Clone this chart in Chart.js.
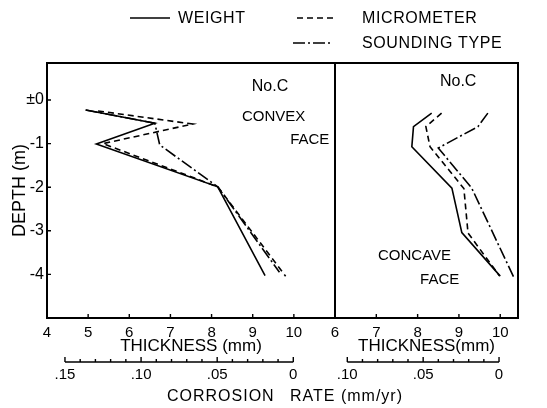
<!DOCTYPE html>
<html>
<head>
<meta charset="utf-8">
<script src="https://cdn.jsdelivr.net/npm/chart.js@4.4.1/dist/chart.umd.min.js"></script>
<style>
  html, body { margin: 0; padding: 0; background: #fff; }
  #wrap { position: relative; width: 547px; height: 408px; background: #fff; }
  #wrap canvas { position: absolute; left: 0; top: 0; }
</style>
</head>
<body>
<div id="wrap">
  <canvas id="convexChart" width="547" height="408"></canvas>
  <canvas id="concaveChart" width="547" height="408"></canvas>
</div>
<script>
// Convex face (left panel): thickness (mm) vs depth (m)
const convexWeightX = [4.94, 6.62, 5.20, 8.15, 9.30];
const convexWeightY = [-0.23, -0.53, -1.01, -1.99, -4.03];
const convexMicroX = [5.24, 7.54, 5.36, 8.15, 9.80];
const convexMicroY = [-0.25, -0.55, -1.00, -1.99, -4.04];
const convexSoundX = [4.94, 6.62, 6.74, 8.15, 9.65];
const convexSoundY = [-0.23, -0.53, -1.03, -1.99, -3.95];

// Concave face (right panel)
const concaveWeightX = [8.34, 7.90, 7.86, 8.83, 9.07, 10.00];
const concaveWeightY = [-0.30, -0.61, -1.07, -2.02, -3.04, -4.04];
const concaveMicroX = [8.58, 8.20, 8.30, 9.12, 9.22, 9.98];
const concaveMicroY = [-0.30, -0.61, -1.07, -2.03, -3.05, -4.03];
const concaveSoundX = [9.70, 9.46, 8.50, 9.31, 10.32];
const concaveSoundY = [-0.30, -0.61, -1.10, -2.02, -4.05];

// tick labels
const depthTicks = [-4, -3, -2, -1, 0];
const depthLabels = ['-4', '-3', '-2', '-1', '±0'];
const convexThicknessTicks = [4, 5, 6, 7, 8, 9, 10];
const concaveThicknessTicks = [6, 7, 8, 9, 10];
const convexRateMajor = [0.15, 0.10, 0.05, 0];
const convexRateLabels = ['.15', '.10', '.05', '0'];
const concaveRateMajor = [0.10, 0.05, 0];
const concaveRateLabels = ['.10', '.05', '0'];
const rateMinorStep = 0.01;

Chart.defaults.font.family = 'Liberation Sans';
Chart.defaults.color = '#000';

function points(xs, ys) {
    return xs.map((x, i) => ({ x: x, y: ys[i] }));
}

function series(label, xs, ys, dash) {
    return {
        label: label,
        data: points(xs, ys),
        showLine: true,
        borderColor: '#000',
        borderWidth: 1.6,
        borderDash: dash,
        pointRadius: 0,
        tension: 0
    };
}

const dashMicro = [6, 4];
const dashSound = [12, 3, 2, 3];

function thicknessScale(min, max, ticks, title) {
    return {
        type: 'linear',
        position: 'bottom',
        min: min,
        max: max,
        weight: 0,
        afterBuildTicks: s => { s.ticks = ticks.map(v => ({ value: v })); },
        afterFit: s => { s.height = 40; },
        grid: { display: false, drawTicks: false },
        border: { display: false },
        ticks: { autoSkip: false, minRotation: 0, maxRotation: 0, padding: 6, font: { size: 15 } },
        title: { display: true, text: title, font: { size: 17 }, padding: { top: 0, bottom: 1 } }
    };
}

function rateScale(min, max, major, labels) {
    const values = [];
    const n = Math.round(major[0] / rateMinorStep);
    for (let i = n; i >= 0; i--) values.push(i * rateMinorStep);
    return {
        type: 'linear',
        axis: 'x',
        position: 'bottom',
        reverse: true,
        min: min,
        max: max,
        weight: 1,
        afterBuildTicks: s => { s.ticks = values.map(v => ({ value: v })); },
        afterFit: s => { s.height = 50; },
        grid: { display: false, drawTicks: false },
        border: { display: false },
        ticks: {
            autoSkip: false, minRotation: 0, maxRotation: 0, padding: 8, font: { size: 15 },
            callback: function(value) {
                const k = major.findIndex(m => Math.abs(m - value) < 1e-6);
                return k < 0 ? '' : labels[k];
            }
        },
        majorValues: major
    };
}

function depthScale(show) {
    return {
        type: 'linear',
        position: 'left',
        display: show,
        min: -5,
        max: 0.85,
        afterBuildTicks: s => { s.ticks = depthTicks.map(v => ({ value: v })); },
        afterFit: s => { if (show) s.width = 47; },
        grid: { display: false, drawTicks: false },
        border: { display: false },
        ticks: {
            autoSkip: false, padding: 3, font: { size: 16 },
            callback: function(value) { return depthLabels[depthTicks.indexOf(value)]; }
        },
        title: { display: true, text: 'DEPTH (m)', font: { size: 18 }, padding: { top: 9, bottom: 0 } }
    };
}

// frame, inward ticks, corrosion-rate axis line and panel notes
const panelFrame = {
    id: 'panelFrame',
    afterDraw(chart, args, opts) {
        const { ctx, chartArea: a, scales } = chart;
        ctx.save();
        ctx.strokeStyle = '#000';
        ctx.lineWidth = 2;
        ctx.strokeRect(a.left, a.top, a.right - a.left, a.bottom - a.top);

        ctx.lineWidth = 1.4;
        ctx.beginPath();
        scales.x.ticks.forEach(t => {
            const px = scales.x.getPixelForValue(t.value);
            ctx.moveTo(px, a.bottom);
            ctx.lineTo(px, a.bottom - 4);
        });
        if (scales.y.options.display) {
            scales.y.ticks.forEach(t => {
                const py = scales.y.getPixelForValue(t.value);
                ctx.moveTo(a.left, py);
                ctx.lineTo(a.left + 4, py);
            });
        }
        const r = scales.rate;
        const ly = r.top + 4;
        const major = r.options.majorValues;
        ctx.moveTo(r.getPixelForValue(major[0]), ly);
        ctx.lineTo(r.getPixelForValue(0), ly);
        r.ticks.forEach(t => {
            const px = r.getPixelForValue(t.value);
            const big = major.some(m => Math.abs(m - t.value) < 1e-6);
            ctx.moveTo(px, ly);
            ctx.lineTo(px, ly - (big ? 5 : 3));
        });
        ctx.stroke();

        ctx.fillStyle = '#000';
        ctx.textBaseline = 'middle';
        (opts.notes || []).forEach(n => {
            ctx.font = n.size + 'px "Liberation Sans"';
            ctx.textAlign = n.align || 'left';
            ctx.fillText(n.text, scales.x.getPixelForValue(n.x), scales.y.getPixelForValue(n.y));
        });
        ctx.restore();
    }
};

// legend of the three methods and the shared corrosion-rate title
const sharedText = {
    id: 'sharedText',
    afterDraw(chart, args, opts) {
        const ctx = chart.ctx;
        ctx.save();
        ctx.fillStyle = '#000';
        ctx.strokeStyle = '#000';
        ctx.textBaseline = 'middle';
        ctx.textAlign = 'left';
        ctx.font = '16px "Liberation Sans"';
        if ('letterSpacing' in ctx) ctx.letterSpacing = '0.6px';
        opts.legend.forEach((item, i) => {
            const ds = chart.data.datasets[i];
            ctx.lineWidth = ds.borderWidth;
            ctx.setLineDash(ds.borderDash || []);
            ctx.beginPath();
            ctx.moveTo(item.x1, item.y);
            ctx.lineTo(item.x2, item.y);
            ctx.stroke();
            ctx.fillText(ds.label, item.textX, item.y + 1);
        });
        ctx.setLineDash([]);
        if ('letterSpacing' in ctx) ctx.letterSpacing = '1px';
        ctx.font = '16px "Liberation Sans"';
        opts.title.forEach(t => ctx.fillText(t.text, t.x, t.y));
        ctx.restore();
    }
};

const baseOptions = {
    responsive: false,
    animation: false,
    events: []
};

const convexChart = new Chart(document.getElementById('convexChart'), {
    type: 'scatter',
    data: {
        datasets: [
            series('WEIGHT', convexWeightX, convexWeightY, []),
            series('MICROMETER', convexMicroX, convexMicroY, dashMicro),
            series('SOUNDING TYPE', convexSoundX, convexSoundY, dashSound)
        ]
    },
    options: Object.assign({}, baseOptions, {
        layout: { padding: { left: 0, top: 63, right: 212, bottom: 0 } },
        plugins: {
            legend: { display: false },
            tooltip: { enabled: false },
            panelFrame: {
                notes: [
                    { text: 'No.C', x: 9.42, y: 0.30, size: 16, align: 'center' },
                    { text: 'CONVEX', x: 8.74, y: -0.39, size: 15 },
                    { text: 'FACE', x: 9.91, y: -0.92, size: 15 }
                ]
            },
            sharedText: {
                legend: [
                    { x1: 130, x2: 170, y: 18, textX: 178 },
                    { x1: 297, x2: 333, y: 18, textX: 362 },
                    { x1: 293, x2: 333, y: 43, textX: 362 }
                ],
                title: [
                    { text: 'CORROSION', x: 167, y: 397 },
                    { text: 'RATE (mm/yr)', x: 290, y: 397 }
                ]
            }
        },
        scales: {
            x: thicknessScale(4, 11, convexThicknessTicks, 'THICKNESS (mm)'),
            rate: rateScale(-0.0274, 0.1618, convexRateMajor, convexRateLabels),
            y: depthScale(true)
        }
    }),
    plugins: [panelFrame, sharedText]
});

const concaveChart = new Chart(document.getElementById('concaveChart'), {
    type: 'scatter',
    data: {
        datasets: [
            series('WEIGHT', concaveWeightX, concaveWeightY, []),
            series('MICROMETER', concaveMicroX, concaveMicroY, dashMicro),
            series('SOUNDING TYPE', concaveSoundX, concaveSoundY, dashSound)
        ]
    },
    options: Object.assign({}, baseOptions, {
        layout: { padding: { left: 335, top: 63, right: 29, bottom: 0 } },
        plugins: {
            legend: { display: false },
            tooltip: { enabled: false },
            panelFrame: {
                notes: [
                    { text: 'No.C', x: 8.54, y: 0.43, size: 16 },
                    { text: 'CONCAVE', x: 7.04, y: -3.58, size: 15 },
                    { text: 'FACE', x: 8.06, y: -4.13, size: 15 }
                ]
            }
        },
        scales: {
            x: thicknessScale(6, 10.43, concaveThicknessTicks, 'THICKNESS(mm)'),
            rate: rateScale(-0.0125, 0.1081, concaveRateMajor, concaveRateLabels),
            y: depthScale(false)
        }
    }),
    plugins: [panelFrame]
});
</script>
</body>
</html>
